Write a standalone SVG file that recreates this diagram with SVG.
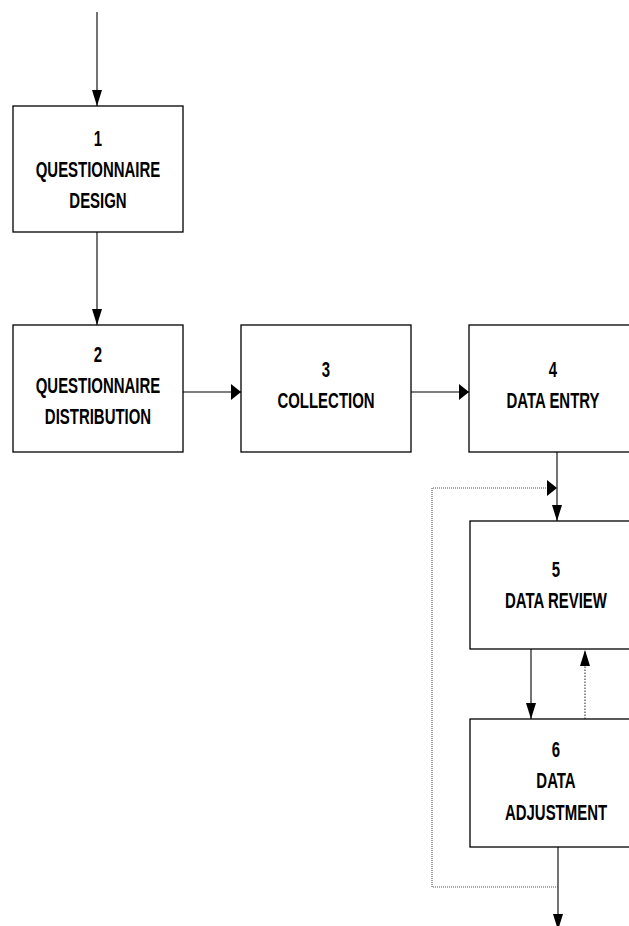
<svg xmlns="http://www.w3.org/2000/svg" width="629" height="926" viewBox="0 0 629 926">
  <style>
    .box { fill: #ffffff; stroke: #000000; stroke-width: 1.3; }
    .lbl { font-family: "Liberation Sans", Arial, sans-serif; font-size: 22px; font-weight: bold; fill: #000000; text-anchor: middle; }
    .flow { fill: none; stroke: #000000; stroke-width: 1.1; }
    .back { fill: none; stroke: #333333; stroke-width: 1.1; stroke-dasharray: 1.5 1.5; }
    .loop { fill: none; stroke: #555555; stroke-width: 1.1; stroke-dasharray: 1 1; }
  </style>
  <defs>
    <!-- arrowhead for vertical runs: long and narrow -->
    <marker id="ah-v" markerUnits="userSpaceOnUse" markerWidth="16" markerHeight="10" refX="16" refY="5" orient="auto">
      <path d="M0,0 L16,5 L0,10 z" fill="#000000"/>
    </marker>
    <!-- arrowhead for horizontal runs: short and wide -->
    <marker id="ah-h" markerUnits="userSpaceOnUse" markerWidth="10" markerHeight="16" refX="10" refY="8" orient="auto">
      <path d="M0,0 L10,8 L0,16 z" fill="#000000"/>
    </marker>
  </defs>

  <rect width="629" height="926" fill="#ffffff"/>

  <g id="connectors">
    <path class="flow" d="M97,12 V106" marker-end="url(#ah-v)"/>
    <path class="flow" d="M97,232 V325" marker-end="url(#ah-v)"/>
    <path class="flow" d="M183,392 H241" marker-end="url(#ah-h)"/>
    <path class="flow" d="M411,392 H469" marker-end="url(#ah-h)"/>
    <path class="flow" d="M557,452 V521" marker-end="url(#ah-v)"/>
    <path class="flow" d="M531,649 V719" marker-end="url(#ah-v)"/>
    <path class="back" d="M585,719 V650" marker-end="url(#ah-v)"/>
    <path class="flow" d="M558,847 V930" marker-end="url(#ah-v)"/>
    <path class="loop" d="M558,887 H432 V488 H557" marker-end="url(#ah-h)"/>
  </g>

  <g id="node1">
    <rect class="box" x="13" y="106" width="170" height="126"/>
    <g transform="translate(98 0) scale(0.68 1)">
      <text class="lbl"><tspan x="0" y="146">1</tspan><tspan x="0" y="177">QUESTIONNAIRE</tspan><tspan x="0" y="208">DESIGN</tspan></text>
    </g>
  </g>

  <g id="node2">
    <rect class="box" x="13" y="325" width="170" height="127"/>
    <g transform="translate(98 0) scale(0.68 1)">
      <text class="lbl"><tspan x="0" y="362">2</tspan><tspan x="0" y="393">QUESTIONNAIRE</tspan><tspan x="0" y="424">DISTRIBUTION</tspan></text>
    </g>
  </g>

  <g id="node3">
    <rect class="box" x="241" y="325" width="170" height="127"/>
    <g transform="translate(326 0) scale(0.68 1)">
      <text class="lbl"><tspan x="0" y="377">3</tspan><tspan x="0" y="408">COLLECTION</tspan></text>
    </g>
  </g>

  <g id="node4">
    <rect class="box" x="469" y="325" width="170" height="127"/>
    <g transform="translate(553 0) scale(0.68 1)">
      <text class="lbl"><tspan x="0" y="377">4</tspan><tspan x="0" y="408">DATA ENTRY</tspan></text>
    </g>
  </g>

  <g id="node5">
    <rect class="box" x="470" y="521" width="170" height="128"/>
    <g transform="translate(556 0) scale(0.68 1)">
      <text class="lbl"><tspan x="0" y="577">5</tspan><tspan x="0" y="608">DATA REVIEW</tspan></text>
    </g>
  </g>

  <g id="node6">
    <rect class="box" x="470" y="719" width="170" height="128"/>
    <g transform="translate(556 0) scale(0.68 1)">
      <text class="lbl"><tspan x="0" y="757">6</tspan><tspan x="0" y="788">DATA</tspan><tspan x="0" y="820">ADJUSTMENT</tspan></text>
    </g>
  </g>
</svg>
